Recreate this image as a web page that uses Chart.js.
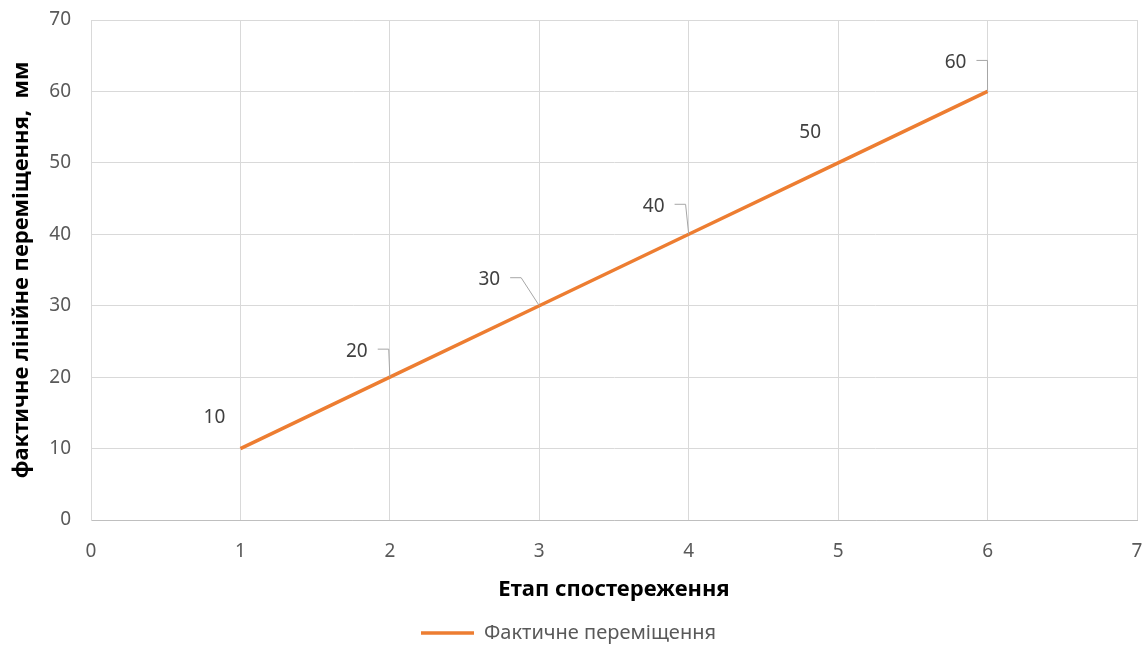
<!DOCTYPE html>
<html>
<head>
<meta charset="utf-8">
<script src="https://cdn.jsdelivr.net/npm/chart.js@4/dist/chart.umd.min.js"></script>
<style>
  html, body { margin: 0; padding: 0; background: #ffffff; }
  #wrap { width: 1148px; height: 670px; }
</style>
</head>
<body>
<div id="wrap"><canvas id="chart" width="1148" height="670"></canvas></div>
<script>
// Observation stages and the measured linear displacement at each stage (mm)
const stages = [1, 2, 3, 4, 5, 6];
const displacement = [10, 20, 30, 40, 50, 60];
const seriesName = 'Фактичне переміщення';
const xTitle = 'Етап спостереження';
const yTitle = 'фактичне лінійне переміщення,  мм';

const FONT = '"Noto Sans", "Open Sans", sans-serif';

// Where each value label sits relative to its point, and whether a leader line joins them
const labelPlacement = [
  { dx: -26, dy: -31, leader: false },
  { dx: -33, dy: -26, leader: true },
  { dx: -50, dy: -26, leader: true },
  { dx: -35, dy: -28, leader: true },
  { dx: -28, dy: -30, leader: false },
  { dx: -32, dy: -29, leader: true }
];

const valueLabels = {
  id: 'valueLabels',
  afterDatasetsDraw(chart) {
    const ctx = chart.ctx;
    const meta = chart.getDatasetMeta(0);
    const values = chart.data.datasets[0].data;
    ctx.save();
    ctx.font = '19px ' + FONT;
    ctx.textAlign = 'center';
    ctx.textBaseline = 'middle';
    meta.data.forEach((pt, i) => {
      const p = labelPlacement[i];
      const text = String(values[i].y);
      const cx = pt.x + p.dx;
      const cy = pt.y + p.dy;
      if (p.leader) {
        const w = ctx.measureText(text).width;
        const sx = cx + w / 2 + 10;
        const sy = cy - 2;
        ctx.strokeStyle = '#a6a6a6';
        ctx.lineWidth = 1;
        ctx.beginPath();
        ctx.moveTo(sx, sy);
        ctx.lineTo(sx + 11, sy);
        ctx.lineTo(pt.x, pt.y);
        ctx.stroke();
      }
      ctx.fillStyle = '#404040';
      ctx.fillText(text, cx, cy);
    });
    ctx.restore();
  }
};

new Chart(document.getElementById('chart'), {
  type: 'line',
  data: {
    datasets: [{
      label: seriesName,
      data: stages.map((s, i) => ({ x: s, y: displacement[i] })),
      borderColor: '#ed7d31',
      backgroundColor: '#ed7d31',
      borderWidth: 3.5,
      pointRadius: 0,
      pointHoverRadius: 0,
      tension: 0
    }]
  },
  options: {
    responsive: false,
    animation: false,
    events: [],
    layout: { padding: { top: 20, right: 11, left: 0, bottom: 17 } },
    plugins: {
      tooltip: { enabled: false },
      legend: {
        position: 'bottom',
        labels: {
          usePointStyle: true,
          pointStyle: 'line',
          pointStyleWidth: 53,
          color: '#595959',
          font: { family: FONT, size: 20 },
          padding: 10
        }
      }
    },
    scales: {
      x: {
        type: 'linear',
        min: 0,
        max: 7,
        ticks: {
          stepSize: 1,
          color: '#595959',
          font: { family: FONT, size: 19 },
          padding: 20
        },
        grid: { color: '#d9d9d9', lineWidth: 1, drawTicks: false },
        border: { color: '#bfbfbf', width: 1 },
        title: {
          display: true,
          text: xTitle,
          color: '#000000',
          font: { family: FONT, size: 22, weight: 'bold' },
          padding: { top: 10, bottom: 10 }
        },
        afterFit(scale) {
          scale.height = 93;
          scale.paddingLeft = 0;
          scale.paddingRight = 0;
        }
      },
      y: {
        min: 0,
        max: 70,
        ticks: {
          stepSize: 10,
          color: '#595959',
          font: { family: FONT, size: 19 },
          padding: 20
        },
        grid: { color: '#d9d9d9', lineWidth: 1, drawTicks: false },
        border: { color: '#d9d9d9', width: 1 },
        title: {
          display: true,
          text: yTitle,
          color: '#000000',
          font: { family: FONT, size: 22, weight: 'bold' },
          padding: { top: 9, bottom: 4 }
        },
        afterFit(scale) {
          scale.width = 91;
          scale.paddingTop = 0;
          scale.paddingBottom = 0;
        }
      }
    }
  },
  plugins: [valueLabels]
});
</script>
</body>
</html>
